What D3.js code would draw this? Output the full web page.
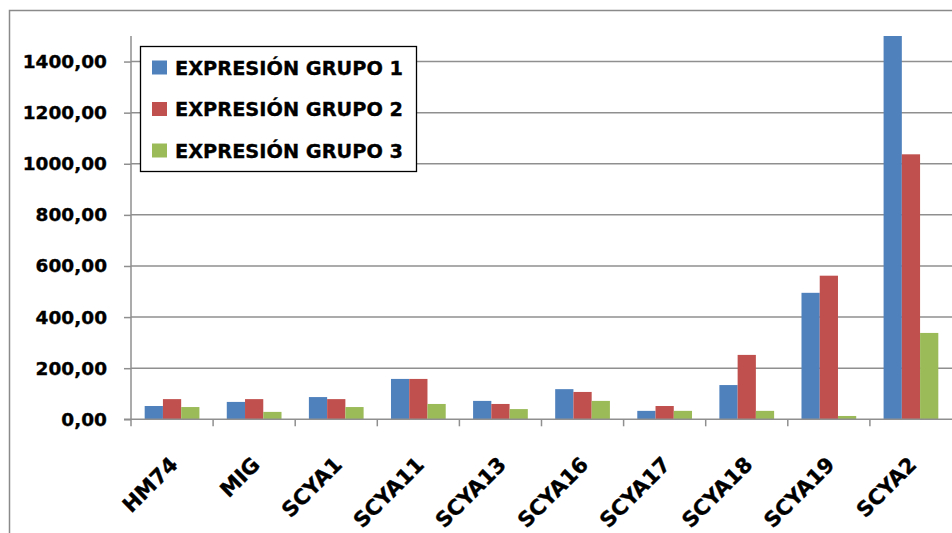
<!DOCTYPE html>
<html>
<head>
<meta charset="utf-8">
<script src="https://cdn.jsdelivr.net/npm/d3@7"></script>
<style>
  html, body { margin: 0; padding: 0; background: #fff; }
  svg { display: block; }
  text { font-family: "DejaVu Sans", Verdana, sans-serif; font-weight: bold; fill: #000; stroke: #000; stroke-width: 0.35px; }
</style>
</head>
<body>
<svg id="chart" width="952" height="533"></svg>
<script>
// data
const genes = ["HM74", "MIG", "SCYA1", "SCYA11", "SCYA13", "SCYA16", "SCYA17", "SCYA18", "SCYA19", "SCYA2"];
const grupo1 = [52, 68, 87, 158, 72, 118, 33, 134, 495, 1500];
const grupo2 = [79, 79, 79, 158, 60, 107, 52, 252, 562, 1037];
const grupo3 = [48, 29, 48, 60, 40, 72, 33, 33, 13, 338];
const seriesNames = ["EXPRESIÓN GRUPO 1", "EXPRESIÓN GRUPO 2", "EXPRESIÓN GRUPO 3"];
const seriesColors = ["#4F81BD", "#C0504D", "#9BBB59"];
const yTicks = [0, 200, 400, 600, 800, 1000, 1200, 1400];

const svg = d3.select("#chart");

const plotLeft = 131, plotRight = 952, plotTop = 36, plotBottom = 419.3;

// outer chart border
svg.append("rect")
  .attr("x", 9.5).attr("y", 10.5)
  .attr("width", 1000).attr("height", 1000)
  .attr("fill", "none")
  .attr("stroke", "#8a8a8a")
  .attr("stroke-width", 1.5);

const x0 = d3.scaleBand().domain(genes).range([plotLeft, plotRight]).padding(0);
const bw = x0.bandwidth();
const x1 = d3.scaleBand().domain([0, 1, 2])
  .range([bw * 0.1667, bw * 0.8333]).padding(0);
const y = d3.scaleLinear().domain([0, 1500]).range([plotBottom, plotTop]);

// gridlines
svg.append("g").selectAll("line")
  .data(yTicks.filter(d => d > 0))
  .join("line")
  .attr("x1", plotLeft).attr("x2", plotRight)
  .attr("y1", d => y(d)).attr("y2", d => y(d))
  .attr("stroke", "#8f8f8f")
  .attr("stroke-width", 1.5);

// bars
const data = [grupo1, grupo2, grupo3];
const gBars = svg.append("g");
data.forEach((vals, s) => {
  gBars.selectAll(".b" + s)
    .data(vals)
    .join("rect")
    .attr("class", "b" + s)
    .attr("x", (d, i) => x0(genes[i]) + x1(s))
    .attr("width", x1.bandwidth())
    .attr("y", d => y(d))
    .attr("height", d => y(0) - y(d))
    .attr("fill", seriesColors[s]);
});

// y axis
const yAxis = d3.axisLeft(y)
  .tickValues(yTicks)
  .tickSize(7)
  .tickPadding(17)
  .tickFormat(d => d3.format(".2f")(d).replace(".", ","));
const gy = svg.append("g").attr("transform", `translate(${plotLeft},0)`).call(yAxis);
gy.select(".domain").attr("d", `M0,${plotTop}V${plotBottom}`);
gy.selectAll("line, path").attr("stroke", "#8f8f8f").attr("stroke-width", 1.5);
gy.selectAll("text")
  .attr("font-size", 18.5)
  .attr("fill", "#000")
  .style("font-family", "DejaVu Sans")
  .style("font-weight", "bold");

// x axis line + ticks at category boundaries
svg.append("line")
  .attr("x1", plotLeft - 7).attr("x2", plotRight)
  .attr("y1", plotBottom).attr("y2", plotBottom)
  .attr("stroke", "#8f8f8f").attr("stroke-width", 1.5);
svg.append("g").selectAll("line")
  .data(genes)
  .join("line")
  .attr("x1", d => x0(d)).attr("x2", d => x0(d))
  .attr("y1", plotBottom).attr("y2", plotBottom + 7)
  .attr("stroke", "#8f8f8f").attr("stroke-width", 1.5);

// x labels rotated
svg.append("g").selectAll("text")
  .data(genes)
  .join("text")
  .attr("text-anchor", "end")
  .attr("font-size", 21)
  .attr("transform", d => `translate(${x0(d) + bw / 2 + 7},466) rotate(-45)`)
  .text(d => d);

// legend
const lg = svg.append("g");
lg.append("rect")
  .attr("x", 140.5).attr("y", 46.5)
  .attr("width", 276).attr("height", 125)
  .attr("fill", "#fff")
  .attr("stroke", "#000")
  .attr("stroke-width", 1.3);
seriesNames.forEach((name, i) => {
  const cy = 67.5 + i * 41.5;
  lg.append("rect")
    .attr("x", 152).attr("y", cy - 7)
    .attr("width", 15).attr("height", 14)
    .attr("fill", seriesColors[i]);
  lg.append("text")
    .attr("x", 175).attr("y", cy)
    .attr("dy", "0.36em")
    .attr("font-size", 20)
    .attr("textLength", 228)
    .attr("lengthAdjust", "spacingAndGlyphs")
    .text(name);
});
</script>
</body>
</html>
